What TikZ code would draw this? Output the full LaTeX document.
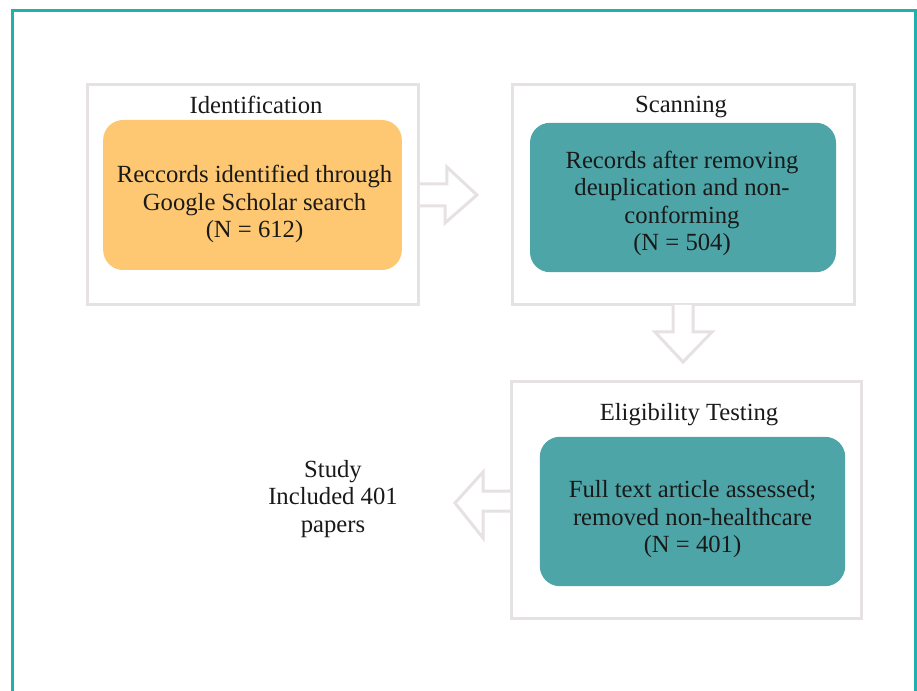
\documentclass[tikz,border=0pt]{standalone}
\usepackage{fontspec}
\setmainfont{Liberation Serif}
\usetikzlibrary{calc}

\definecolor{frameteal}{RGB}{32,178,170}
\definecolor{boxgray}{RGB}{230,225,228}
\definecolor{idorange}{RGB}{254,200,114}
\definecolor{stepteal}{RGB}{78,165,168}

\begin{document}
\begin{tikzpicture}
  [x=0.75pt,y=-0.75pt,
   every node/.style={font=\fontsize{18.5}{20.6}\selectfont,align=center,text=black!90},
   stage/.style={draw=boxgray,line width=2.25pt,fill=white},
   inner/.style={rounded corners=15pt,inner sep=0pt},
   blockarrow/.style={draw=boxgray,line width=2.25pt,line join=miter}]
  \useasboundingbox (0,0) rectangle (917,691);
  \draw[frameteal,line width=2.4pt] (12.5,700) -- (12.5,10.5) -- (915.5,10.5) -- (915.5,700);

  \node[stage,minimum width=248pt,minimum height=165pt] (1) at (253,195) {};
  \node[stage,minimum width=256.5pt,minimum height=165pt] (2) at (683,195) {};
  \node[stage,minimum width=262pt,minimum height=177pt] (3) at (686.5,500) {};

  \node (t1) at (256,105) {Identification};
  \node (t2) at (681,107) {Scanning};
  \node (t3) at (689,415) {Eligibility Testing};

  \node[inner,fill=idorange,minimum width=224pt,minimum height=112.5pt] (4) at (252.5,195) {};
  \node[inner,fill=stepteal,minimum width=229.5pt,minimum height=112pt] (5) at (683,197.5) {};
  \node[inner,fill=stepteal,minimum width=229pt,minimum height=112pt] (6) at (692.5,511.5) {};

  \node (4t) at ($(4)+(2,9)$) {Reccords identified through\\Google Scholar search\\(N = 612)};
  \node (5t) at ($(5)+(-1,6)$) {Records after removing\\deuplication and non-\\conforming\\(N = 504)};
  \node (6t) at ($(6)+(0,8)$) {Full text article assessed;\\removed non-healthcare\\(N = 401)};

  \node (7) at (333,499) {Study\\Included 401\\papers};

  % right arrow out of Identification
  \fill[white] ($(1.east)+(0,-11)$) -- ++(27,0) -- ++(0,-17) -- (477,195) -- (445,223) -- ++(0,-17) -- ($(1.east)+(0,11)$) -- cycle;
  \draw[blockarrow] ($(1.east)+(0,-11)$) -- ++(27,0) -- ++(0,-17) -- (477,195) -- (445,223) -- ++(0,-17) -- ($(1.east)+(0,11)$);

  % down arrow out of Scanning
  \fill[white] (673,305) -- (673,332) -- (655,332) -- (683,362) -- (712,332) -- (693,332) -- (693,305) -- cycle;
  \draw[blockarrow] (673,305) -- (673,332) -- (655,332) -- (683,362) -- (712,332) -- (693,332) -- (693,305);

  % left arrow towards the study
  \fill[white] ($(3.west)+(0,-9)$) -- (483,491) -- (483,472) -- (455,503) -- (483,538) -- (483,511) -- ($(3.west)+(0,11)$) -- cycle;
  \draw[blockarrow] ($(3.west)+(0,-9)$) -- (483,491) -- (483,472) -- (455,503) -- (483,538) -- (483,511) -- ($(3.west)+(0,11)$);

\end{tikzpicture}
\end{document}
